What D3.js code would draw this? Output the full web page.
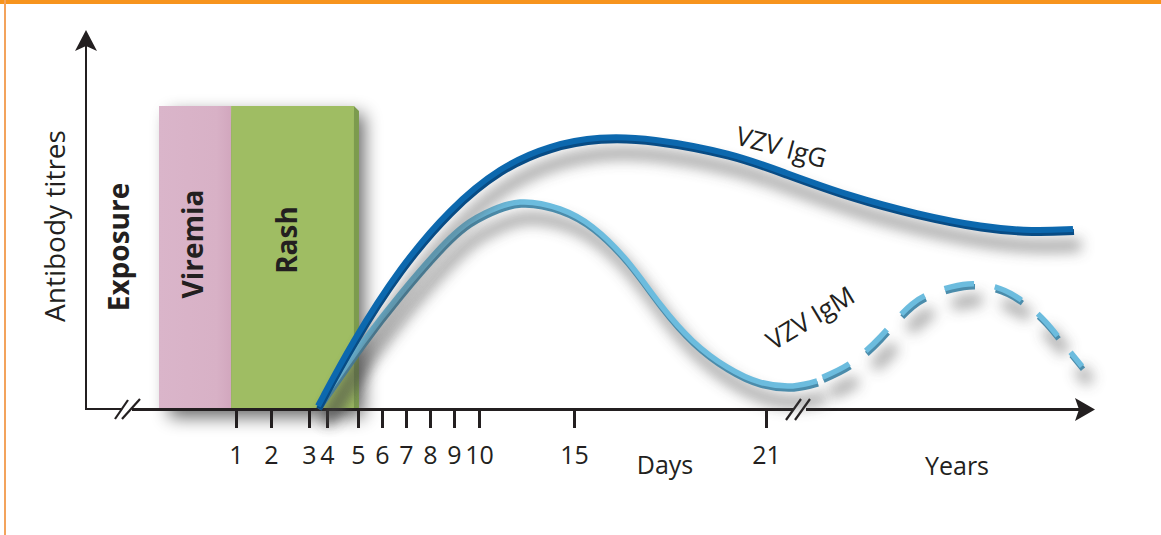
<!DOCTYPE html>
<html>
<head>
<meta charset="utf-8">
<script src="https://cdn.jsdelivr.net/npm/d3@7"></script>
<style>
  html, body { margin: 0; padding: 0; background: #fff; }
  svg { display: block; font-family: "Open Sans", "Noto Sans", sans-serif; }
</style>
</head>
<body>
<div id="chart"></div>
<script>
// Data
const dayTicks = [1, 2, 3, 4, 5, 6, 7, 8, 9, 10, 15, 21];
const phaseNames = ['Viremia', 'Rash'];
const phaseStart = [-1.2, 0.86];   // days
const phaseEnd = [0.86, 4.87];     // days

// [day, titre] then [year, titre]
const iggDays = [[3.5, 0.8], [4.81, 17.7], [6.75, 37.5], [8.83, 53], [11.1, 63.9], [13.74, 69.7],
  [15.81, 72], [17.38, 71.6], [19.97, 67.5], [21.53, 62.6]];
const iggYears = [[1.67, 56.2], [3.9, 51.5], [6.1, 48], [7.77, 47], [9.1, 47.5]];

const igmDays = [[3.5, 0.8], [5.21, 17.7], [6.75, 30.3], [8.83, 45.1], [10.32, 51.7], [12.16, 54.6],
  [14.26, 52.8], [15.59, 48], [16.66, 39.1], [17.69, 27.7], [18.72, 17.9], [19.78, 11.1],
  [20.81, 7.1], [21.84, 6.1]];
const igmYears = [[0.57, 7.4]];
const igmLater = [[0.75, 8.4], [1.67, 12.1], [2.67, 19], [3.73, 27.7], [4.67, 31.4], [5.6, 33],
  [6.5, 32.2], [7.33, 29], [8.17, 23.2], [8.77, 17.4], [9.4, 11.3]];

const W = 1161, H = 535;
const ink = '#231f20';

// Scales: the day axis of the schematic is not linear, so a piecewise scale
const xDays = d3.scaleLinear()
    .domain(dayTicks)
    .range([236, 271, 309, 327, 358, 382, 406, 430, 454, 479, 574, 766]);
const xYears = d3.scaleLinear().domain([0, 10]).range([800, 1100]);
const y = d3.scaleLinear().domain([0, 100]).range([409, 30]);

const svg = d3.select('#chart').append('svg')
    .attr('width', W)
    .attr('height', H);

const defs = svg.append('defs');
function blurFilter(id, sd) {
    defs.append('filter')
        .attr('id', id)
        .attr('filterUnits', 'userSpaceOnUse')
        .attr('x', 0).attr('y', 0).attr('width', W).attr('height', H)
        .append('feGaussianBlur').attr('stdDeviation', sd);
}
blurFilter('soft', 7);
blurFilter('boxsoft', 9);

const pinkGrad = defs.append('linearGradient').attr('id', 'pink');
pinkGrad.append('stop').attr('offset', '0%').attr('stop-color', '#dab5ca');
pinkGrad.append('stop').attr('offset', '80%').attr('stop-color', '#d8b1c6');
pinkGrad.append('stop').attr('offset', '100%').attr('stop-color', '#d2a7be');

// Orange frame
svg.append('rect').attr('x', 0).attr('y', 0).attr('width', W).attr('height', 4).attr('fill', '#f7941d');
svg.append('rect').attr('x', 4).attr('y', 0).attr('width', 2).attr('height', H).attr('fill', '#f3a35c');

// Phase boxes
const boxTop = 106;
const x0 = xDays(phaseStart[0]), x1 = xDays(phaseEnd[1]);
svg.append('rect')
    .attr('x', x0 + 10).attr('y', boxTop + 8)
    .attr('width', x1 - x0).attr('height', y(0) - boxTop)
    .attr('fill', '#000').attr('opacity', 0.6)
    .attr('filter', 'url(#boxsoft)');

const phaseFill = ['url(#pink)', '#9fbd63'];
svg.selectAll('.phase')
    .data(phaseNames)
    .join('rect')
    .attr('class', 'phase')
    .attr('x', (d, i) => xDays(phaseStart[i]))
    .attr('y', boxTop)
    .attr('width', (d, i) => xDays(phaseEnd[i]) - xDays(phaseStart[i]))
    .attr('height', y(0) - boxTop)
    .attr('fill', (d, i) => phaseFill[i]);

// 3D side of the rash box
svg.append('path')
    .attr('d', `M${x1},${boxTop} L${x1 + 5},${boxTop + 5} L${x1 + 5},${y(0)} L${x1},${y(0)} Z`)
    .attr('fill', '#7c9b4e');

// Axes
svg.append('line')
    .attr('x1', 86).attr('y1', y(0)).attr('x2', 86).attr('y2', 46)
    .attr('stroke', ink).attr('stroke-width', 2);
svg.append('path')
    .attr('d', 'M86,30 L75,51 L86,46 L97,51 Z')
    .attr('fill', ink);
svg.append('line')
    .attr('x1', 85).attr('y1', y(0)).attr('x2', 121).attr('y2', y(0))
    .attr('stroke', ink).attr('stroke-width', 2);
svg.append('line')
    .attr('x1', 132).attr('y1', y(0) + 0.5).attr('x2', 793).attr('y2', y(0) + 0.5)
    .attr('stroke', ink).attr('stroke-width', 3);
svg.append('line')
    .attr('x1', 806).attr('y1', y(0) + 0.5).attr('x2', 1080).attr('y2', y(0) + 0.5)
    .attr('stroke', ink).attr('stroke-width', 3);
svg.append('path')
    .attr('d', `M1095,${y(0) + 0.5} L1075,${y(0) - 11} L1079,${y(0) + 0.5} L1075,${y(0) + 12} Z`)
    .attr('fill', ink);

// axis breaks
const breaks = [[115, 419, 128, 400], [122, 419, 140, 399], [786, 420, 801, 399], [795, 420, 810, 399]];
svg.selectAll('.brk')
    .data(breaks)
    .join('line')
    .attr('class', 'brk')
    .attr('x1', d => d[0]).attr('y1', d => d[1])
    .attr('x2', d => d[2]).attr('y2', d => d[3])
    .attr('stroke', ink).attr('stroke-width', 2.2);

const xAxis = d3.axisBottom(xDays)
    .tickValues(dayTicks)
    .tickSize(18)
    .tickPadding(18)
    .tickFormat(d3.format('d'));

const gx = svg.append('g')
    .attr('transform', `translate(0,${y(0) + 1})`)
    .call(xAxis)
    .attr('font-family', null)
    .attr('font-size', 25)
    .attr('color', ink);
gx.select('.domain').remove();
gx.selectAll('.tick line').attr('stroke-width', 3);

// Curves
const lineFor = curve => d3.line()
    .x(p => p[0])
    .y(p => p[1])
    .curve(curve);

const toPx = (arr, xs) => arr.map(([t, v]) => [xs(t), y(v)]);

const iggPts = [...toPx(iggDays, xDays), ...toPx(iggYears, xYears)];
const igmPts = [...toPx(igmDays, xDays), ...toPx(igmYears, xYears)];
const igmDashPts = toPx(igmLater, xYears);

function ribbon(pts, curve, top, side, w, dash) {
    const d = lineFor(curve)(pts);
    svg.append('path')
        .attr('d', d)
        .attr('transform', 'translate(8,16)')
        .attr('fill', 'none')
        .attr('stroke', '#444')
        .attr('stroke-width', w + 6)
        .attr('stroke-dasharray', dash)
        .attr('opacity', 0.5)
        .attr('filter', 'url(#soft)');
    svg.append('path')
        .attr('d', d)
        .attr('transform', 'translate(1,3)')
        .attr('fill', 'none')
        .attr('stroke', side)
        .attr('stroke-width', w)
        .attr('stroke-dasharray', dash);
    svg.append('path')
        .attr('d', d)
        .attr('fill', 'none')
        .attr('stroke', top)
        .attr('stroke-width', w)
        .attr('stroke-dasharray', dash);
}

ribbon(igmPts, d3.curveNatural, '#6cbcde', '#4b8cab', 5.5, null);
ribbon(igmDashPts, d3.curveNatural, '#6cbcde', '#4b8cab', 5.5, '30,21');
ribbon(iggPts, d3.curveBasis, '#0c68ae', '#084c85', 6, null);

// Labels
function label(txt, x, yy, rot, size, weight) {
    svg.append('text')
        .attr('transform', `translate(${x},${yy}) rotate(${rot})`)
        .attr('text-anchor', 'middle')
        .attr('font-size', size)
        .attr('font-weight', weight || 'normal')
        .attr('fill', ink)
        .text(txt);
}

label('Antibody titres', 65, 226, -90, 28);
label('Exposure', 129, 247, -90, 28, 'bold');
label(phaseNames[0], 203, 244, -90, 28, 'bold');
label(phaseNames[1], 297, 240, -90, 28, 'bold');
label('VZV IgG', 779, 156, 15, 26);
label('VZV IgM', 815, 326, -31, 26);
label('Days', 665, 474, 0, 25);
label('Years', 957, 475, 0, 25);
</script>
</body>
</html>
